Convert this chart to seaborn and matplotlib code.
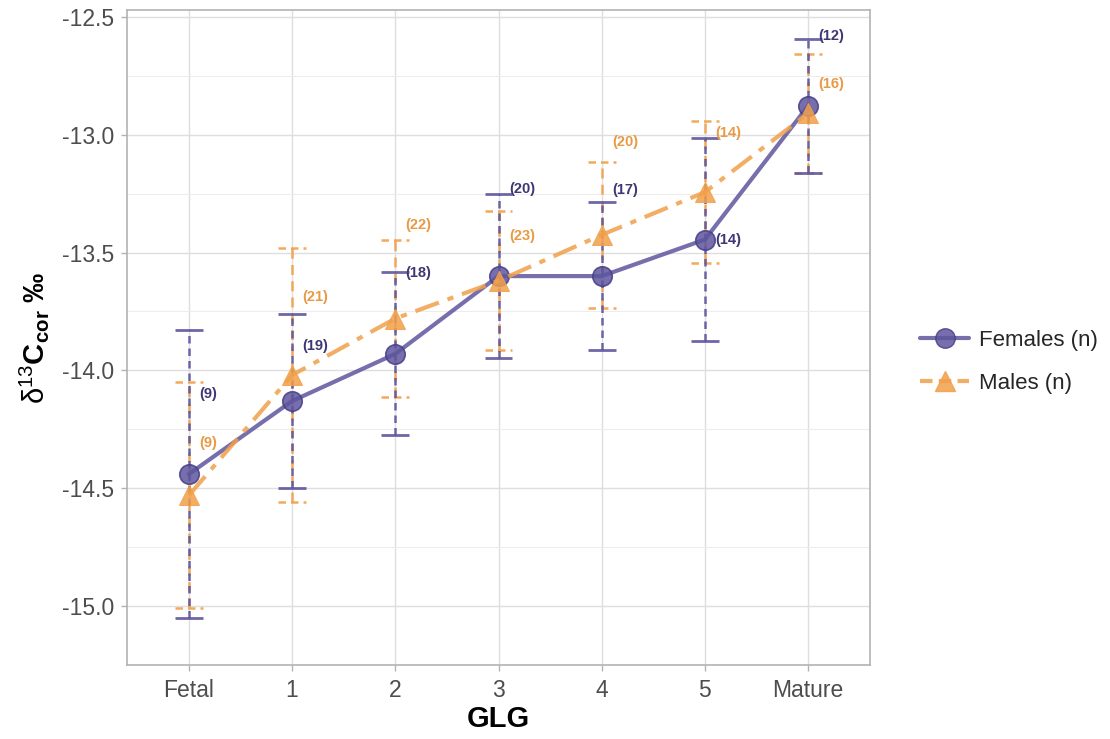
import matplotlib
matplotlib.use("Agg")
import matplotlib.pyplot as plt
from matplotlib.lines import Line2D
import numpy as np
import pandas as pd
import seaborn as sns

# ---- data ----
categories = ["Fetal", "1", "2", "3", "4", "5", "Mature"]
female_mean = [-14.44, -14.13, -13.93, -13.60, -13.60, -13.445, -12.878]
female_sd = [0.61, 0.37, 0.346, 0.347, 0.313, 0.432, 0.284]
female_n = [9, 19, 18, 20, 17, 14, 12]
male_mean = [-14.53, -14.02, -13.78, -13.62, -13.425, -13.244, -12.91]
male_sd = [0.479, 0.539, 0.333, 0.295, 0.31, 0.301, 0.254]
male_n = [9, 21, 22, 23, 20, 14, 16]
yticks = [-15.0, -14.5, -14.0, -13.5, -13.0, -12.5]

# ---- layout (label placement) ----
female_label_y = [-14.10, -13.896, -13.588, -13.231, -13.235, -13.448, -12.582]
male_label_y = [-14.306, -13.69, -13.383, -13.428, -13.03, -12.993, -12.787]

PURPLE = "#5E569E"
PURPLE_TXT = "#3E3775"
ORANGE = "#F2A04A"
ORANGE_TXT = "#E89A45"

sns.set_theme(style="whitegrid")
plt.rcParams["font.family"] = ["Liberation Sans", "DejaVu Sans"]
plt.rcParams["mathtext.fontset"] = "custom"
plt.rcParams["mathtext.rm"] = "Liberation Sans"
plt.rcParams["mathtext.bf"] = "Liberation Sans:bold"
plt.rcParams["mathtext.it"] = "Liberation Sans:italic"

fig = plt.figure(figsize=(11.1, 7.39), dpi=100)
ax = fig.add_axes([0.1144, 0.1001, 0.6694, 0.8864])

pos = np.arange(len(categories))
df_f = pd.DataFrame({"pos": pos, "mean": female_mean})
df_m = pd.DataFrame({"pos": pos, "mean": male_mean})

# error bars
fm = np.array(female_mean); fs = np.array(female_sd)
mm = np.array(male_mean); ms = np.array(male_sd)
capw = 0.135

ax.vlines(pos, mm - ms, mm + ms, color=ORANGE, linewidth=1.8,
          linestyles=(0, (4, 2.5)), zorder=3, alpha=0.9)
ax.hlines(mm - ms, pos - capw, pos + capw, color=ORANGE, linewidth=1.8,
          linestyles=(0, (3, 2)), zorder=3, alpha=0.9)
ax.hlines(mm + ms, pos - capw, pos + capw, color=ORANGE, linewidth=1.8,
          linestyles=(0, (3, 2)), zorder=3, alpha=0.9)

ax.vlines(pos, fm - fs, fm + fs, color=PURPLE, linewidth=1.8,
          linestyles=(0, (3, 2)), zorder=4, alpha=0.9)
ax.hlines(fm - fs, pos - capw, pos + capw, color=PURPLE, linewidth=2.0, zorder=4, alpha=0.9)
ax.hlines(fm + fs, pos - capw, pos + capw, color=PURPLE, linewidth=2.0, zorder=4, alpha=0.9)

# lines + markers
sns.lineplot(data=df_f, x="pos", y="mean", ax=ax, color=PURPLE, linewidth=3,
             marker="o", markersize=14, markeredgecolor="#463E86",
             markeredgewidth=1.2, alpha=0.85, zorder=5, legend=False)
sns.lineplot(data=df_m, x="pos", y="mean", ax=ax, color=ORANGE, linewidth=3,
             linestyle=(0, (6, 2.2, 1.5, 2.2)), marker="^", markersize=14,
             markeredgecolor=ORANGE, alpha=0.85, zorder=6, legend=False)

# n labels
for i in range(len(categories)):
    ax.text(pos[i] + 0.1, female_label_y[i], f"({female_n[i]})", color=PURPLE_TXT,
            fontsize=10.5, fontweight="bold", ha="left", va="center", zorder=7)
    ax.text(pos[i] + 0.1, male_label_y[i], f"({male_n[i]})", color=ORANGE_TXT,
            fontsize=10.5, fontweight="bold", ha="left", va="center", zorder=7)

# axes styling
ax.set_xlim(-0.6, 6.6)
ax.set_ylim(-15.16, -12.471)
ax.set_xticks(pos)
ax.set_xticklabels(categories)
ax.set_yticks(yticks)
ax.set_yticklabels([f"{v:.1f}" for v in yticks])
ax.set_yticks(np.arange(-15.25, -12.4, 0.5), minor=True)
ax.grid(True, which="major", color="#DEDEDE", linewidth=1.0)
ax.grid(True, which="minor", axis="y", color="#EDEDED", linewidth=0.8)
ax.grid(False, which="minor", axis="x")
ax.set_facecolor("white")
for s in ax.spines.values():
    s.set_color("#B3B3B3")
    s.set_linewidth(1.2)
ax.tick_params(axis="both", which="major", labelsize=16.5, labelcolor="#4D4D4D",
               color="#B3B3B3", length=4, width=1, left=True, bottom=True)
ax.tick_params(axis="y", which="major", pad=5)
ax.tick_params(axis="x", which="major", pad=6)
ax.tick_params(which="minor", length=0)
ax.set_axisbelow(True)

ax.set_xlabel("GLG", fontsize=21, fontweight="bold", color="black", labelpad=2)
ax.set_ylabel(r"$\mathrm{δ}^{\mathrm{13}}\mathbf{C}_{\mathbf{cor}}$ ‰", fontsize=21,
              fontweight="bold", color="black", labelpad=8)

handles = [
    Line2D([0], [0], color=PURPLE, linewidth=3, marker="o", markersize=14,
           markeredgecolor="#463E86", alpha=0.85, label="Females (n)"),
    Line2D([0], [0], color=ORANGE, linewidth=3, linestyle=(0, (3, 1.5)),
           marker="^", markersize=14, alpha=0.85, label="Males (n)"),
]
fig.legend(handles=handles, loc="center left", bbox_to_anchor=(0.811, 0.51),
           frameon=False, fontsize=16, handlelength=2.2, labelspacing=1.0,
           handletextpad=0.45)

fig.savefig("out.png", dpi=100)
